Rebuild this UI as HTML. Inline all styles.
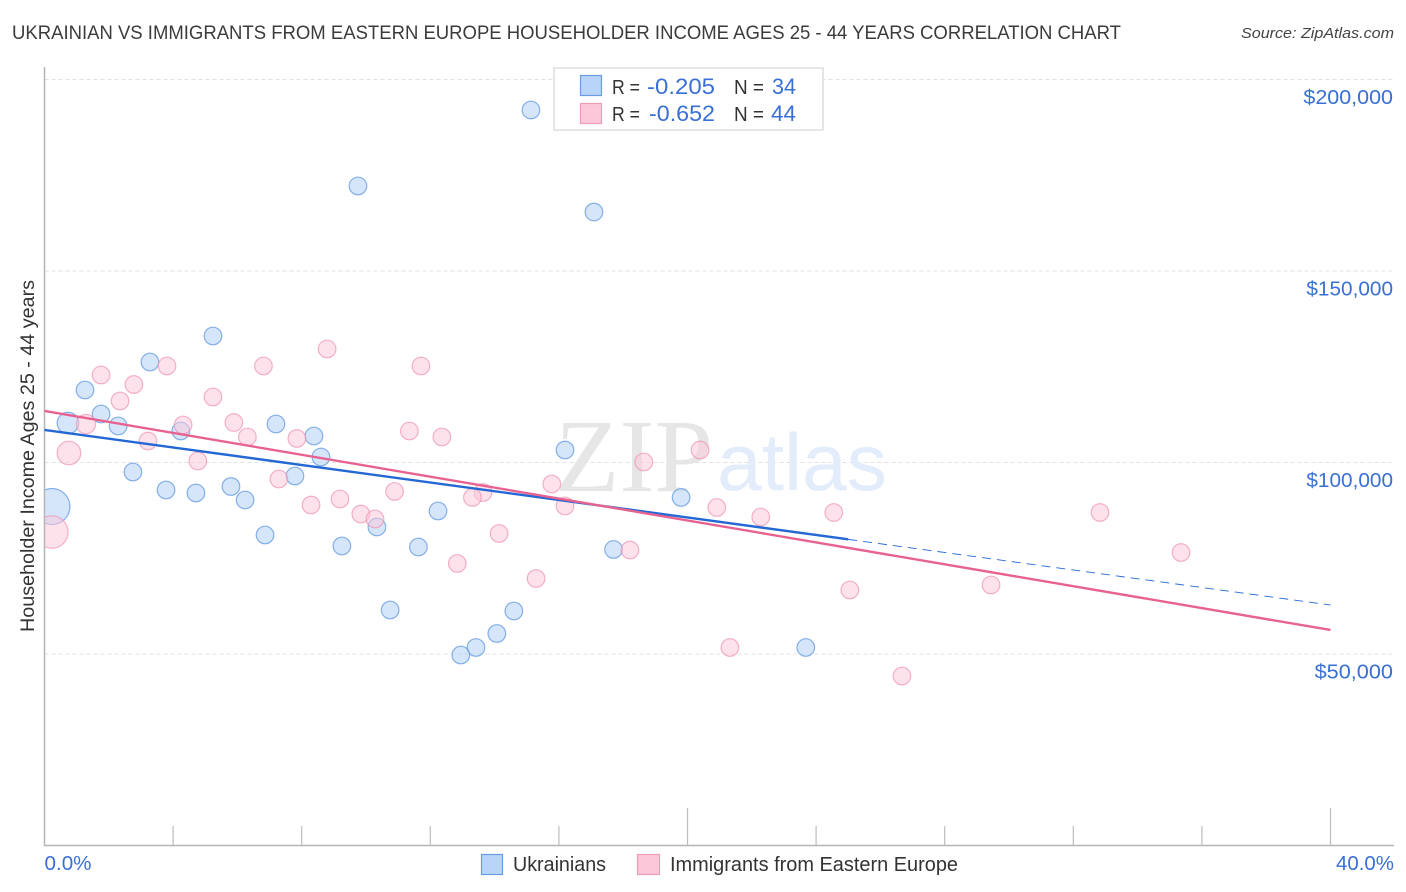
<!DOCTYPE html>
<html lang="en">
<head>
<meta charset="utf-8">
<title>Ukrainian vs Immigrants from Eastern Europe Householder Income Correlation Chart</title>
<style>
html,body{margin:0;padding:0;background:#fff;width:1406px;height:892px;overflow:hidden}
svg{display:block;font-family:"Liberation Sans",sans-serif}
</style>
</head>
<body>
<svg id="chart" width="1406" height="892" viewBox="0 0 1406 892" xmlns="http://www.w3.org/2000/svg">
  <rect width="1406" height="892" fill="#fff"/>
  <text x="12" y="39" font-size="19" fill="#3b3b3b" textLength="1109" lengthAdjust="spacingAndGlyphs">UKRAINIAN VS IMMIGRANTS FROM EASTERN EUROPE HOUSEHOLDER INCOME AGES 25 - 44 YEARS CORRELATION CHART</text>
  <text x="1241" y="38" font-size="15" font-style="italic" fill="#444" textLength="153" lengthAdjust="spacingAndGlyphs">Source: ZipAtlas.com</text>
  <g id="grid"></g>
  <text x="555" y="491" font-family="'Liberation Serif',serif" font-size="104" fill="#e6e6e6" textLength="158" lengthAdjust="spacingAndGlyphs">ZIP</text>
  <text x="717" y="490" font-size="81" fill="#e2ecfa" textLength="170" lengthAdjust="spacingAndGlyphs">atlas</text>
  <g id="points-blue"></g>
  <g id="points-pink"></g>
  <rect x="0" y="60" width="44.5" height="790" fill="#fff"/>
  <g id="axes"></g>
  <g id="trends"></g>
  <text transform="translate(34,456) rotate(-90)" font-size="19.5" fill="#333" text-anchor="middle" textLength="352" lengthAdjust="spacingAndGlyphs">Householder Income Ages 25 - 44 years</text>
  <g id="y-labels"></g>
  <g>
    <rect x="554" y="68" width="269" height="62" fill="#fff" stroke="#dedede" stroke-width="1.5"/>
    <rect x="580.5" y="75.5" width="21" height="20" fill="#b8d4f7" stroke="#6a9de2" stroke-width="1.2"/>
    <rect x="580.5" y="103.5" width="21" height="20" fill="#fcc8d9" stroke="#ee9db7" stroke-width="1.2"/>
    <text x="612" y="94" font-size="20" fill="#333" textLength="28" lengthAdjust="spacingAndGlyphs">R =</text>
    <text x="647" y="94" font-size="22" fill="#3a70d6" textLength="68" lengthAdjust="spacingAndGlyphs">-0.205</text>
    <text x="734" y="94" font-size="20" fill="#333" textLength="30" lengthAdjust="spacingAndGlyphs">N =</text>
    <text x="772" y="94" font-size="22" fill="#3a70d6" textLength="24" lengthAdjust="spacingAndGlyphs">34</text>
    <text x="612" y="121" font-size="20" fill="#333" textLength="28" lengthAdjust="spacingAndGlyphs">R =</text>
    <text x="649" y="121" font-size="22" fill="#3a70d6" textLength="66" lengthAdjust="spacingAndGlyphs">-0.652</text>
    <text x="734" y="121" font-size="20" fill="#333" textLength="30" lengthAdjust="spacingAndGlyphs">N =</text>
    <text x="771" y="121" font-size="22" fill="#3a70d6" textLength="25" lengthAdjust="spacingAndGlyphs">44</text>
  </g>
  <g>
    <rect x="481.5" y="854.5" width="21" height="20" fill="#b8d4f7" stroke="#6a9de2" stroke-width="1.2"/>
    <text x="513" y="871" font-size="20" fill="#333" textLength="93" lengthAdjust="spacingAndGlyphs">Ukrainians</text>
    <rect x="637.5" y="854.5" width="22" height="20" fill="#fcc8d9" stroke="#ee9db7" stroke-width="1.2"/>
    <text x="670" y="871" font-size="20" fill="#333" textLength="288" lengthAdjust="spacingAndGlyphs">Immigrants from Eastern Europe</text>
  </g>
</svg>
<script>
const yTickValues = [50000, 100000, 150000, 200000];
const yTickLabels = ["$50,000", "$100,000", "$150,000", "$200,000"];
const xTickValues = [0, 4, 8, 12, 16, 20, 24, 28, 32, 36, 40];
const xMajorTicks = [20, 40];
const xEdgeLabels = ["0.0%", "40.0%"];

const ukrainianShare = [15.13, 9.75, 17.09, 5.24, 3.28, 1.26, 1.76, 0.73, 2.29, 4.24, 7.20, 8.38, 8.60, 16.19, 2.75, 7.79, 3.78, 4.71, 5.80, 6.24, 12.24, 19.80, 0.23, 6.86, 9.25, 10.34, 11.63, 17.70, 10.75, 14.60, 14.07, 13.42, 12.95, 23.68];
const ukrainianIncome = [192040, 172200, 165400, 133030, 126240, 118930, 112660, 110310, 109530, 108230, 110050, 106920, 101440, 103260, 97520, 96480, 92820, 92040, 93730, 90210, 87340, 90860, 88510, 81070, 78200, 83160, 77940, 77290, 61490, 61230, 55350, 51700, 49740, 51700];
const ukrainianWeight = [1, 1, 1, 1, 1, 1, 1, 1.5, 1, 1, 1, 1, 1, 1, 1, 1, 1, 1, 1, 1, 1, 1, 4.2, 1, 1, 1, 1, 1, 1, 1, 1, 1, 1, 1];

const immigrantShare = [1.76, 2.78, 2.35, 3.81, 6.81, 8.79, 11.71, 5.24, 1.29, 4.31, 5.89, 3.22, 6.31, 7.85, 11.35, 12.36, 0.76, 4.77, 18.64, 20.39, 7.29, 15.78, 9.19, 10.89, 13.64, 13.31, 8.29, 16.19, 20.91, 9.84, 10.28, 22.28, 24.55, 32.83, 35.35, 14.14, 12.84, 18.21, 15.29, 29.44, 25.05, 21.32, 26.67, 0.23];
const immigrantIncome = [122850, 120370, 116060, 125200, 125200, 129640, 125200, 117100, 110050, 109790, 110440, 105610, 106660, 106270, 108230, 106660, 102480, 100390, 100130, 103260, 95690, 94390, 90470, 92430, 92170, 90860, 88900, 88640, 88250, 86550, 85250, 85770, 86950, 86950, 76500, 81460, 73630, 77150, 69710, 68020, 66710, 51700, 44260, 81850];
const immigrantWeight = [1, 1, 1, 1, 1, 1, 1, 1, 1.2, 1, 1, 1, 1, 1, 1, 1, 1.8, 1, 1, 1, 1, 1, 1, 1, 1, 1, 1, 1, 1, 1, 1, 1, 1, 1, 1, 1, 1, 1, 1, 1, 1, 1, 1, 3.4];

const ukrainianTrendX = [0, 25, 40];
const ukrainianTrendY = [108490, 79930, 62790];
const immigrantTrendX = [0, 40];
const immigrantTrendY = [113450, 56270];

const NS = "http://www.w3.org/2000/svg";
function xScale(v) { return 44.5 + v / 40 * 1286; }
function yScale(v) { return 654 - (v - 50000) / 50000 * 191.5; }
function make(tag, attrs, parent) {
  const el = document.createElementNS(NS, tag);
  for (const k in attrs) el.setAttribute(k, attrs[k]);
  parent.appendChild(el);
  return el;
}
function labelWidth(s) { return s.length * 11.2 - 3 * (s.split("1").length - 1); }

const grid = document.getElementById("grid");
const axes = document.getElementById("axes");
const yLabels = document.getElementById("y-labels");

yTickValues.forEach(function (v, i) {
  const y = yScale(v);
  const line = make("line", {x1: 44.5, x2: 1394, y1: y, y2: y, stroke: "#e2e2e2", "stroke-width": 1, "stroke-dasharray": "4 3"}, grid);
  
  
  const label = make("text", {x: 1393, y: y + 24.5, "font-size": 20, fill: "#3a70d6", "text-anchor": "end", textLength: labelWidth(yTickLabels[i]), lengthAdjust: "spacingAndGlyphs"}, yLabels);
  
  
  label.textContent = yTickLabels[i];
});

const yAxis = make("line", {x1: 44.5, x2: 44.5, y1: 67, y2: 846, stroke: "#b5b5b5", "stroke-width": 1.5}, axes);


const xAxis = make("line", {x1: 44, x2: 1394, y1: 845.5, y2: 845.5, stroke: "#b5b5b5", "stroke-width": 1.5}, axes);



xTickValues.forEach(function (v) {
  if (v === 0) return;
  const x = xScale(v);
  const top = xMajorTicks.indexOf(v) >= 0 ? 808 : 826;
  const tick = make("line", {x1: x, x2: x, y1: top, y2: 845, stroke: "#bdbdbd", "stroke-width": 1.2}, axes);
  
  
});

const xLabelLeft = make("text", {x: xScale(0), y: 870, "font-size": 20, fill: "#3a70d6", textLength: 47, lengthAdjust: "spacingAndGlyphs"}, axes);


xLabelLeft.textContent = xEdgeLabels[0];
const xLabelRight = make("text", {x: 1336, y: 870, "font-size": 20, fill: "#3a70d6", textLength: 58, lengthAdjust: "spacingAndGlyphs"}, axes);


xLabelRight.textContent = xEdgeLabels[1];

function radius(w) { return 8.8 * Math.sqrt(w); }

const bluePoints = document.getElementById("points-blue");
ukrainianShare.forEach(function (v, i) {
  const c = make("circle", {cx: xScale(v), cy: yScale(ukrainianIncome[i]), r: radius(ukrainianWeight[i]), fill: "#b8d4f7", "fill-opacity": 0.58, stroke: "#5c94e0", "stroke-opacity": 0.72, "stroke-width": 1.2}, bluePoints);
  
  
});

const pinkPoints = document.getElementById("points-pink");
immigrantShare.forEach(function (v, i) {
  const c = make("circle", {cx: xScale(v), cy: yScale(immigrantIncome[i]), r: radius(immigrantWeight[i]), fill: "#fcc8d9", "fill-opacity": 0.52, stroke: "#ee8fae", "stroke-opacity": 0.68, "stroke-width": 1.2}, pinkPoints);
  
  
});

const trends = document.getElementById("trends");
const blueSolid = make("line", {x1: xScale(ukrainianTrendX[0]), y1: yScale(ukrainianTrendY[0]), x2: xScale(ukrainianTrendX[1]), y2: yScale(ukrainianTrendY[1]), stroke: "#2468d4", "stroke-width": 2.4}, trends);


const blueDash = make("line", {x1: xScale(ukrainianTrendX[1]), y1: yScale(ukrainianTrendY[1]), x2: xScale(ukrainianTrendX[2]), y2: yScale(ukrainianTrendY[2]), stroke: "#2468d4", "stroke-width": 0.9, "stroke-dasharray": "9 6"}, trends);


const pinkLine = make("line", {x1: xScale(immigrantTrendX[0]), y1: yScale(immigrantTrendY[0]), x2: xScale(immigrantTrendX[1]), y2: yScale(immigrantTrendY[1]), stroke: "#e8628f", "stroke-width": 2.4}, trends);


</script>
</body>
</html>
